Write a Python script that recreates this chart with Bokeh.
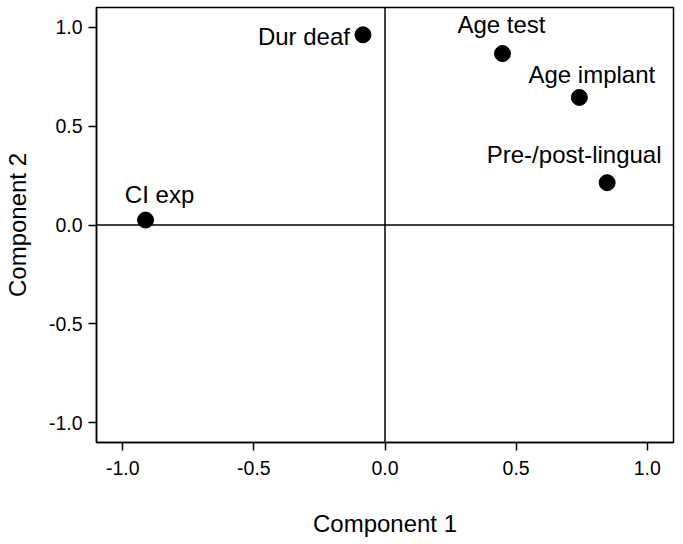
from bokeh.plotting import figure
from bokeh.models import Span, ColumnDataSource, FixedTicker, Range1d
from bokeh.embed import file_html
from bokeh.resources import INLINE
from bokeh.core.properties import value

# data
variables = ["Dur deaf", "Age test", "Age implant", "Pre-/post-lingual", "CI exp"]
component1 = [-0.084, 0.448, 0.741, 0.847, -0.913]
component2 = [0.962, 0.867, 0.645, 0.214, 0.025]
ticks = [-1.0, -0.5, 0.0, 0.5, 1.0]
tick_labels = ["-1.0", "-0.5", "0.0", "0.5", "1.0"]

# label placement (screen px, style only)
label_dx = [-13, -1, 12.5, -33, 14]
label_dy = [2, -29, -23, -28, -26]
label_align = ["right", "center", "center", "center", "center"]

FONT = "Liberation Sans"

p = figure(width=683, height=544, output_backend="svg", toolbar_location=None,
           x_range=Range1d(-1.1, 1.1), y_range=Range1d(-1.1, 1.1),
           min_border_left=96, min_border_right=10, min_border_top=7, min_border_bottom=102)
p.background_fill_color = "white"
p.border_fill_color = "white"
p.outline_line_color = "black"
p.outline_line_width = 1.5
p.xgrid.visible = False
p.ygrid.visible = False

overrides = {t: s for t, s in zip(ticks, tick_labels)}
for ax in (p.xaxis[0], p.yaxis[0]):
    ax.ticker = FixedTicker(ticks=ticks)
    ax.major_label_overrides = overrides
    ax.minor_tick_line_color = None
    ax.major_tick_in = 0
    ax.major_tick_out = 8
    ax.major_tick_line_width = 1.5
    ax.axis_line_width = 1.5
    ax.major_label_text_font = FONT
    ax.major_label_text_font_size = "19.5px"
    ax.major_label_text_color = "black"
    ax.axis_label_text_font = FONT
    ax.axis_label_text_font_size = "24px"
    ax.axis_label_text_font_style = "normal"
    ax.axis_label_text_color = "black"

p.xaxis.axis_label = "Component 1"
p.yaxis.axis_label = "Component 2"
p.xaxis.major_label_standoff = 10
p.yaxis.major_label_standoff = 6
p.xaxis.axis_label_standoff = 32
p.yaxis.axis_label_standoff = 15

p.add_layout(Span(location=0, dimension="width", line_color="black", line_width=1.5))
p.add_layout(Span(location=0, dimension="height", line_color="black", line_width=1.5))

src = ColumnDataSource(dict(x=component1, y=component2, name=variables,
                            dx=label_dx, dy=label_dy, align=label_align))
p.scatter("x", "y", source=src, size=16, fill_color="black", line_color="black")
p.text("x", "y", text="name", source=src, x_offset="dx", y_offset="dy",
       text_align="align", text_baseline="alphabetic",
       text_font=value(FONT), text_font_size="24px", text_color="black")

open("out.html", "w").write(file_html(p, INLINE))
